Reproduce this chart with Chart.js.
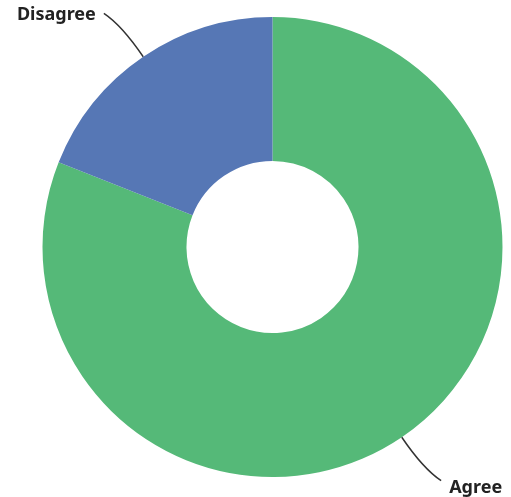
<!DOCTYPE html>
<html lang="en">
  <head>
    <meta charset="UTF-8" />
    <title>Agree / Disagree</title>
    <script src="https://cdn.jsdelivr.net/npm/chart.js"></script>
    <style>
      html,
      body {
        margin: 0;
        padding: 0;
        background: #ffffff;
      }
      canvas {
        display: block;
      }
    </style>
  </head>
  <body>
    <canvas id="donut" width="511" height="497"></canvas>

    <script>
      // Data (share of answers, %)
      const categories = ['Agree', 'Disagree'];
      const shares = [81, 19];
      const sliceColors = ['#55b978', '#5677b5'];

      // Callout labels with curved leader lines
      const calloutPlugin = {
        id: 'callouts',
        afterDatasetsDraw(chart) {
          const ctx = chart.ctx;
          const arcs = chart.getDatasetMeta(0).data;
          ctx.save();
          ctx.font = 'bold 18px "Noto Sans", sans-serif';
          ctx.fillStyle = '#222222';
          ctx.strokeStyle = '#333333';
          ctx.lineWidth = 1.5;
          ctx.textBaseline = 'middle';

          arcs.forEach((arc, i) => {
            const mid = (arc.startAngle + arc.endAngle) / 2;
            const dx = Math.cos(mid);
            const dy = Math.sin(mid);
            const x0 = arc.x + dx * arc.outerRadius;
            const y0 = arc.y + dy * arc.outerRadius;
            const cx = x0 + dx * 38;
            const cy = y0 + dy * 38;
            const side = dx < 0 ? -1 : 1;
            const ex = cx + side * 18;
            const ey = cy + (dy < 0 ? -12 : 12);

            ctx.beginPath();
            ctx.moveTo(x0, y0);
            ctx.quadraticCurveTo(cx, cy, ex, ey);
            ctx.stroke();

            ctx.textAlign = side < 0 ? 'right' : 'left';
            ctx.fillText(categories[i], ex + side * 8, ey + (dy < 0 ? 2 : 7));
          });
          ctx.restore();
        },
      };

      new Chart(document.getElementById('donut').getContext('2d'), {
        type: 'doughnut',
        data: {
          labels: categories,
          datasets: [
            {
              data: shares,
              backgroundColor: sliceColors,
              borderWidth: 0,
            },
          ],
        },
        options: {
          responsive: false,
          animation: false,
          cutout: '37.4%',
          layout: {
            padding: { left: 42, right: 8, top: 17, bottom: 20 },
          },
          plugins: {
            legend: { display: false },
            tooltip: { enabled: false },
          },
        },
        plugins: [calloutPlugin],
      });
    </script>
  </body>
</html>
